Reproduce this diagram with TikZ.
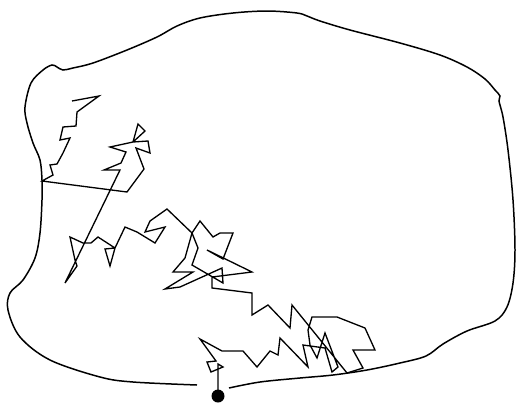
\documentclass[tikz,border=0pt]{standalone}
\usepackage{tikz}

\begin{document}
\begin{tikzpicture}[x=0.02cm,y=-0.02cm]
    \useasboundingbox (0,0) rectangle (517,403);

    % Boundary of the region (open at the starting point)
    \draw[line width=0.85pt, smooth, tension=0.55] plot coordinates {
        (229,388) (260,382) (300,378) (333,375) (367,370) (400,363)
        (426,356) (443,344) (467,331) (495,321) (507,307) (513,283)
        (515,250) (513,200) (508,150) (503,117) (499,101) (500,96)
        (495,90) (485,79) (467,67) (440,55) (400,43) (350,30)
        (320,21) (307,16) (297,13) (267,11) (233,13) (200,18)
        (177,26) (157,37) (127,50) (93,63) (73,68) (63,70)
        (57,67) (52,65) (43,70) (31,83) (25,107) (27,123)
        (33,143) (40,160) (42,180) (42,200) (40,233) (35,258)
        (23,280) (10,293) (8,310) (20,337) (50,360) (100,377)
        (133,382) (197,385)};

    % Starting point
    \node[circle, fill=black, inner sep=0pt, minimum size=0.26cm] (start) at (218,396) {};

    % Random walk
    \draw[line width=0.75pt, line join=miter] (start.center)
        -- (218,364) -- (223,367) -- (211,372) -- (207,362) -- (216,361)
        -- (200,339) -- (222,351) -- (243,351) -- (257,367) -- (270,351)
        -- (278,355) -- (280,338) -- (308,367) -- (303,345) -- (325,348)
        -- (332,372) -- (338,367) -- (325,333) -- (317,358) -- (310,345)
        -- (308,330) -- (312,317) -- (337,317) -- (365,328) -- (375,350)
        -- (353,350) -- (363,368) -- (347,373) -- (292,305) -- (290,328)
        -- (268,305) -- (252,315) -- (252,293) -- (212,288) -- (212,277)
        -- (252,272) -- (207,250) -- (223,259) -- (233,233) -- (220,233)
        -- (213,237) -- (200,221) -- (192,233) -- (198,248) -- (192,265)
        -- (223,283) -- (222,268) -- (180,287) -- (165,289) -- (193,272)
        -- (173,272) -- (185,258) -- (192,233) -- (167,209) -- (150,221)
        -- (145,232) -- (165,227) -- (155,243) -- (137,232) -- (125,227)
        -- (115,248) -- (105,249) -- (110,266) -- (115,248) -- (98,237)
        -- (91,243) -- (83,243) -- (70,237) -- (75,260) -- (77,266)
        -- (65,283) -- (120,170) -- (104,170) -- (121,163) -- (126,152)
        -- (110,147) -- (133,142) -- (138,124) -- (145,131) -- (133,142)
        -- (148,141) -- (150,153) -- (136,148) -- (144,169) -- (127,192)
        -- (42,181) -- (53,175) -- (50,165) -- (57,164) -- (63,153)
        -- (70,138) -- (60,140) -- (63,127) -- (76,126) -- (77,112)
        -- (99,96) -- (72,101);
\end{tikzpicture}
\end{document}
